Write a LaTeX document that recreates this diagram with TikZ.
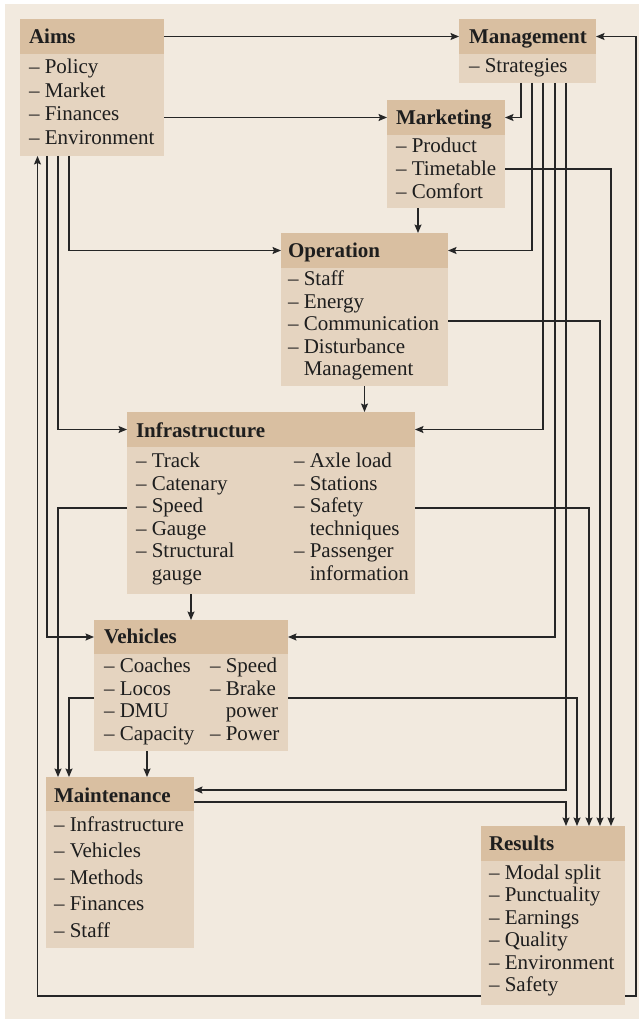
\documentclass[tikz,border=0pt]{standalone}
\usepackage{fontspec}
\setmainfont{Liberation Serif}
\usetikzlibrary{arrows.meta,calc}
\definecolor{bg}{HTML}{F2EADF}
\definecolor{headc}{HTML}{D9BFA1}
\definecolor{bodyc}{HTML}{E5D4C0}
\definecolor{linec}{HTML}{262626}
\definecolor{txt}{HTML}{1E1E1E}
\newcommand{\drawbox}[6]{%
  \node[boxbody, minimum width=#4pt, minimum height=#5pt] (#1) at (#2,#3) {};
  \node[boxhead, minimum width=#4pt, minimum height=#6pt] (#1H) at (#2,#3) {};
}
\newcommand{\cont}{\phantom{– }}
\begin{document}
\begin{tikzpicture}[x=1pt,y=-1pt,
  boxbody/.style={fill=bodyc, draw=none, inner sep=0, outer sep=0, anchor=north west},
  boxhead/.style={fill=headc, draw=none, inner sep=0, outer sep=0, anchor=north west},
  lbl/.style={anchor=base west, inner sep=0, outer sep=0, text=txt, font=\fontsize{21}{23}\selectfont},
  hlbl/.style={lbl, font=\fontsize{21}{23}\selectfont\bfseries},
  conn/.style={draw=linec, line width=1.3pt, -{Stealth[length=8.5pt,width=7pt,inset=1.5pt]}}
]
\useasboundingbox (0,0) rectangle (639,1019);
\fill[bg] (5,4) rectangle (650,1030);

% boxes
\drawbox{aims}{20}{19}{144}{137}{35}
\drawbox{mgmt}{459}{19}{137}{64}{35}
\drawbox{mkt}{387}{100}{118}{108}{35}
\drawbox{op}{281}{233}{167}{153}{35}
\drawbox{inf}{127}{412}{288}{182}{35}
\drawbox{veh}{94}{620}{194}{131}{34}
\drawbox{mnt}{46}{777}{148}{171}{34}
\drawbox{res}{481}{826}{144}{179}{35}

% headers
\node[hlbl] (aimsT) at (29,44) {Aims};
\node[hlbl] (mgmtT) at (469,44) {Management};
\node[hlbl] (mktT) at (396,124.5) {Marketing};
\node[hlbl] (opT) at (288,257.5) {Operation};
\node[hlbl] (infT) at (136,437) {Infrastructure};
\node[hlbl] (vehT) at (104,643.5) {Vehicles};
\node[hlbl] (mntT) at (54,802) {Maintenance};
\node[hlbl] (resT) at (489,850.5) {Results};

% items
\foreach \t/\yy [count=\i] in {Policy/74,Market/97.5,Finances/121,Environment/144.5}
  \node[lbl] (aims-\i) at (29,\yy) {– \t};
\node[lbl] (mgmt-1) at (469,73) {– Strategies};
\foreach \t/\yy [count=\i] in {Product/153,Timetable/175.5,Comfort/198}
  \node[lbl] (mkt-\i) at (396,\yy) {– \t};
\foreach \t/\yy [count=\i] in {– Staff/285.5,– Energy/308,– Communication/330.5,– Disturbance/353,\cont Management/375.5}
  \node[lbl] (op-\i) at (288,\yy) {\t};
\foreach \t/\yy [count=\i] in {– Track/467,– Catenary/490,– Speed/512.5,– Gauge/535,– Structural/557.5,\cont gauge/580}
  \node[lbl] (infa-\i) at (136,\yy) {\t};
\foreach \t/\yy [count=\i] in {– Axle load/467,– Stations/490,– Safety/512.5,\cont techniques/535,– Passenger/557.5,\cont information/580}
  \node[lbl] (infb-\i) at (294,\yy) {\t};
\foreach \t/\yy [count=\i] in {Coaches/672,Locos/695,DMU/717.5,Capacity/740}
  \node[lbl] (veha-\i) at (104,\yy) {– \t};
\foreach \t/\yy [count=\i] in {– Speed/672,– Brake/695,\cont power/717.5,– Power/740}
  \node[lbl] (vehb-\i) at (210,\yy) {\t};
\foreach \t/\yy [count=\i] in {Infrastructure/831,Vehicles/857.5,Methods/884,Finances/910.5,Staff/937}
  \node[lbl] (mnt-\i) at (54,\yy) {– \t};
\foreach \t/\yy [count=\i] in {Modal split/879,Punctuality/901.5,Earnings/924,Quality/946.5,Environment/969,Safety/991.5}
  \node[lbl] (res-\i) at (489,\yy) {– \t};

% lanes
\coordinate (La) at (37.5,0);
\coordinate (Lb) at (47,0);
\coordinate (Lc) at (58,0);
\coordinate (Ld) at (69,0);
\coordinate (R1) at (521,0);
\coordinate (R2) at (532,0);
\coordinate (R3) at (543,0);
\coordinate (R4) at (555,0);
\coordinate (R5) at (566,0);
\coordinate (R6) at (577,0);
\coordinate (R7) at (589,0);
\coordinate (R8) at (600,0);
\coordinate (R9) at (611,0);
\coordinate (R10) at (636,0);
\coordinate (Xmo) at (418,0);
\coordinate (Xvm) at (147,0);
\coordinate (Ytt) at (0,169);
\coordinate (Ycom) at (0,321);
\coordinate (Ysaf) at (0,508);
\coordinate (Yloc) at (0,698);
\coordinate (Ymin) at (0,790);
\coordinate (Ymout) at (0,802);
\coordinate (Ybot) at (0,996);

% connectors
\draw[conn] (aimsH.east) -- (mgmtH.west);
\draw[conn] (aims.east |- mktH.west) -- (mktH.west);
\draw[conn] (mgmt.south -| R1) |- (mktH.east);
\draw[conn] (mgmt.south -| R2) |- (opH.east);
\draw[conn] (mgmt.south -| R3) |- (infH.east);
\draw[conn] (mgmt.south -| R4) |- (vehH.east);
\draw[conn] (mgmt.south -| R5) |- (mnt.east |- Ymin);
\draw[conn] (mnt.east |- Ymout) -| (res.north -| R5);
\draw[conn] (veh.east |- Yloc) -| (res.north -| R6);
\draw[conn] (inf.east |- Ysaf) -| (res.north -| R7);
\draw[conn] (op.east |- Ycom) -| (res.north -| R8);
\draw[conn] (mkt.east |- Ytt) -| (res.north -| R9);
\draw[conn] (res.east |- Ybot) -| (R10 |- mgmtH.east) -- (mgmtH.east);
\draw[conn] (res.west |- Ybot) -| (aims.south -| La);
\draw[conn] (aims.south -| Ld) |- (opH.west);
\draw[conn] (aims.south -| Lc) |- (infH.west);
\draw[conn] (aims.south -| Lb) |- (vehH.west);
\draw[conn] (inf.west |- Ysaf) -| (mnt.north -| Lc);
\draw[conn] (veh.west |- Yloc) -| (mnt.north -| Ld);
\draw[conn] (mkt.south -| Xmo) -- (op.north -| Xmo);
\draw[conn] (op.south) -- (op.south |- inf.north);
\draw[conn] (inf.south -| veh.north) -- (veh.north);
\draw[conn] (veh.south -| Xvm) -- (mnt.north -| Xvm);
\end{tikzpicture}
\end{document}
